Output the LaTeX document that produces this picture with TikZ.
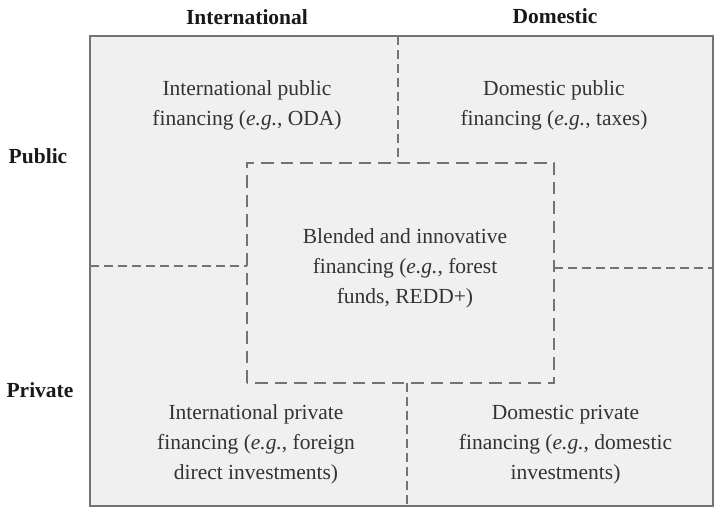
\documentclass[tikz,border=0pt]{standalone}
\usepackage{fontspec}
\setmainfont{Liberation Serif}
\usetikzlibrary{calc}

\begin{document}
\begin{tikzpicture}[x=1pt,y=1pt,
	cell/.style={align=center,text=black!80,font=\fontsize{21.5}{30}\selectfont},
	head/.style={text=black!90,font=\fontsize{21.5}{26}\selectfont\bfseries},
	split/.style={draw=black!55,line width=1.6pt,dash pattern=on 9pt off 5pt},
	blendbox/.style={draw=black!55,line width=1.8pt,dash pattern=on 12.5pt off 7pt}]
\useasboundingbox (0,0) rectangle (716,509);
% outer frame
\coordinate (SW) at (90,2.5);
\coordinate (NE) at (713,473);
% inner (blended) box
\coordinate (ISW) at (247,126);
\coordinate (INE) at (554,346);
% ends of the dashed splits
\coordinate (TopA) at (398,473);
\coordinate (TopB) at (398,346);
\coordinate (LeftA) at (90,243);
\coordinate (LeftB) at (247,243);
\coordinate (RightA) at (554,241);
\coordinate (RightB) at (713,241);
\coordinate (BotA) at (407,126);
\coordinate (BotB) at (407,2.5);
\fill[black!6] (SW) rectangle (NE);
\draw[split] (TopA)--(TopB);
\draw[split] (LeftA)--(LeftB);
\draw[split] (RightA)--(RightB);
\draw[split] (BotA)--(BotB);
\draw[blendbox] (ISW) rectangle (INE);
\draw[black!55,line width=2pt] (SW) rectangle (NE);
% column and row headings
\node[head] (intl) at (247,491.5) {International};
\node[head] (dom) at (555,492.5) {Domestic};
\node[head] (pub) at (38,353) {Public};
\node[head] (priv) at (40,119) {Private};
% the five cells
\node[cell] (intlpub) at (247,404) {International public\\financing (\textit{e.g.}, ODA)};
\node[cell] (dompub) at (554,404) {Domestic public\\financing (\textit{e.g.}, taxes)};
\node[cell] (blend) at (405,241) {Blended and innovative\\financing (\textit{e.g.}, forest\\funds, REDD+)};
\node[cell] (intlpriv) at (256,64.5) {International private\\financing (\textit{e.g.}, foreign\\direct investments)};
\node[cell] (dompriv) at (565.5,64) {Domestic private\\financing (\textit{e.g.}, domestic\\investments)};
\end{tikzpicture}
\end{document}
